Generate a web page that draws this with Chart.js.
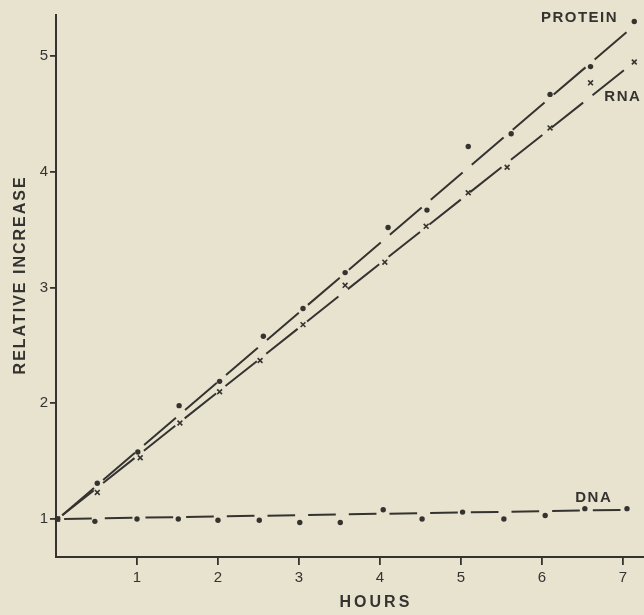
<!DOCTYPE html>
<html>
<head>
<meta charset="utf-8">
<script src="https://cdn.jsdelivr.net/npm/chart.js@4.4.1/dist/chart.umd.min.js"></script>
<style>
  html, body { margin: 0; padding: 0; background: #e8e3cf; }
  #wrap { width: 644px; height: 615px; }
</style>
</head>
<body>
<div id="wrap"><canvas id="increase"></canvas></div>
<script>
// values (relative increase against hours)
const hoursProtein = [0.02, 0.51, 1.01, 1.52, 2.02, 2.56, 3.05, 3.57, 4.10, 4.58, 5.09, 5.62, 6.10, 6.60, 7.14];
const protein = [1.0, 1.31, 1.58, 1.98, 2.19, 2.58, 2.82, 3.13, 3.52, 3.67, 4.22, 4.33, 4.67, 4.91, 5.30];

const hoursRna = [0.02, 0.51, 1.04, 1.53, 2.02, 2.52, 3.05, 3.57, 4.06, 4.57, 5.09, 5.57, 6.10, 6.60, 7.14];
const rna = [1.0, 1.23, 1.53, 1.83, 2.10, 2.37, 2.68, 3.02, 3.22, 3.53, 3.82, 4.04, 4.38, 4.77, 4.95];

const hoursDna = [0.02, 0.48, 1.0, 1.51, 2.0, 2.51, 3.01, 3.51, 4.04, 4.52, 5.02, 5.53, 6.04, 6.53, 7.05];
const dna = [1.0, 0.98, 1.0, 1.0, 0.99, 0.99, 0.97, 0.97, 1.08, 1.0, 1.06, 1.0, 1.03, 1.09, 1.09];

// the straight lines drawn through each set (end points)
const proteinLineHours = [0.02, 7.1];
const proteinLine = [1.0, 5.24];
const rnaLineHours = [0.02, 7.07];
const rnaLine = [1.0, 4.91];
const dnaLineHours = [0.02, 7.05];
const dnaLine = [1.0, 1.08];

const xTicks = [1, 2, 3, 4, 5, 6, 7];
const yTicks = [1, 2, 3, 4, 5];

const ink = "#353330";
const fontFamily = "'Liberation Sans', Arial, sans-serif";

const toXY = (xs, ys) => xs.map((x, i) => ({ x: x, y: ys[i] }));

// break the line into n dashes, leaving a gap where each point sits
function gappedDash(n, gap) {
  return (ctx) => {
    const len = Math.hypot(ctx.p1.x - ctx.p0.x, ctx.p1.y - ctx.p0.y);
    const step = len / n;
    return [0, gap / 2, step - gap, gap / 2];
  };
}

const seriesLabels = [
  { text: "PROTEIN", x: 6.94, y: 5.33, align: "right" },
  { text: "RNA", x: 6.77, y: 4.65, align: "left" },
  { text: "DNA", x: 6.64, y: 1.18, align: "center" },
];

const figText = {
  id: "figText",
  afterDraw(chart) {
    const { ctx } = chart;
    const x = chart.scales.x;
    const y = chart.scales.y;
    ctx.save();
    ctx.fillStyle = ink;
    ctx.textBaseline = "middle";
    ctx.font = "bold 15px " + fontFamily;
    ctx.letterSpacing = "1.5px";
    seriesLabels.forEach((l) => {
      ctx.textAlign = l.align;
      ctx.fillText(l.text, x.getPixelForValue(l.x), y.getPixelForValue(l.y));
    });

    // axis titles
    ctx.font = "bold 16px " + fontFamily;
    ctx.textAlign = "center";
    ctx.letterSpacing = "3px";
    ctx.fillText("HOURS", x.getPixelForValue(3.95), chart.height - 12);
    ctx.letterSpacing = "2px";
    ctx.translate(21, y.getPixelForValue(3.11));
    ctx.rotate(-Math.PI / 2);
    ctx.fillText("RELATIVE INCREASE", 0, 0);
    ctx.restore();
  },
};

const lineSet = (xs, ys, n, gap) => ({
  data: toXY(xs, ys),
  showLine: true,
  borderColor: ink,
  borderWidth: 2,
  pointRadius: 0,
  segment: { borderDash: gappedDash(n, gap) },
});

const pointSet = (xs, ys, style, radius) => ({
  data: toXY(xs, ys),
  showLine: false,
  pointStyle: style,
  pointRadius: radius,
  backgroundColor: ink,
  borderColor: ink,
  borderWidth: style === "crossRot" ? 1.6 : 0,
});

new Chart(document.getElementById("increase"), {
  type: "scatter",
  data: {
    datasets: [
      lineSet(proteinLineHours, proteinLine, protein.length - 1, 12),
      lineSet(rnaLineHours, rnaLine, rna.length - 1, 12),
      lineSet(dnaLineHours, dnaLine, dna.length - 1, 13),
      pointSet(hoursProtein, protein, "circle", 2.7),
      pointSet(hoursRna, rna, "crossRot", 3.4),
      pointSet(hoursDna, dna, "circle", 2.7),
    ],
  },
  options: {
    responsive: true,
    maintainAspectRatio: false,
    animation: false,
    events: [],
    clip: false,
    layout: { autoPadding: false, padding: { top: 15, right: 0, left: 0, bottom: 0 } },
    plugins: {
      legend: { display: false },
      tooltip: { enabled: false },
    },
    scales: {
      x: {
        type: "linear",
        min: 0,
        max: 7.26,
        afterBuildTicks: (s) => { s.ticks = xTicks.map((v) => ({ value: v })); },
        afterFit: (s) => { s.height = 58; s.paddingRight = 0; s.paddingLeft = 0; },
        ticks: { color: ink, padding: 4, font: { size: 15, family: fontFamily } },
        grid: { drawOnChartArea: false, tickLength: 8, color: ink, lineWidth: 1.8 },
        border: { color: ink, width: 2 },
      },
      y: {
        type: "linear",
        min: 0.672,
        max: 5.356,
        afterBuildTicks: (s) => { s.ticks = yTicks.map((v) => ({ value: v })); },
        afterFit: (s) => { s.width = 56; s.paddingTop = 0; s.paddingBottom = 0; },
        ticks: { color: ink, padding: 2, font: { size: 15, family: fontFamily } },
        grid: { drawOnChartArea: false, tickLength: 6, color: ink, lineWidth: 1.8 },
        border: { color: ink, width: 2 },
      },
    },
  },
  plugins: [figText],
});
</script>
</body>
</html>
